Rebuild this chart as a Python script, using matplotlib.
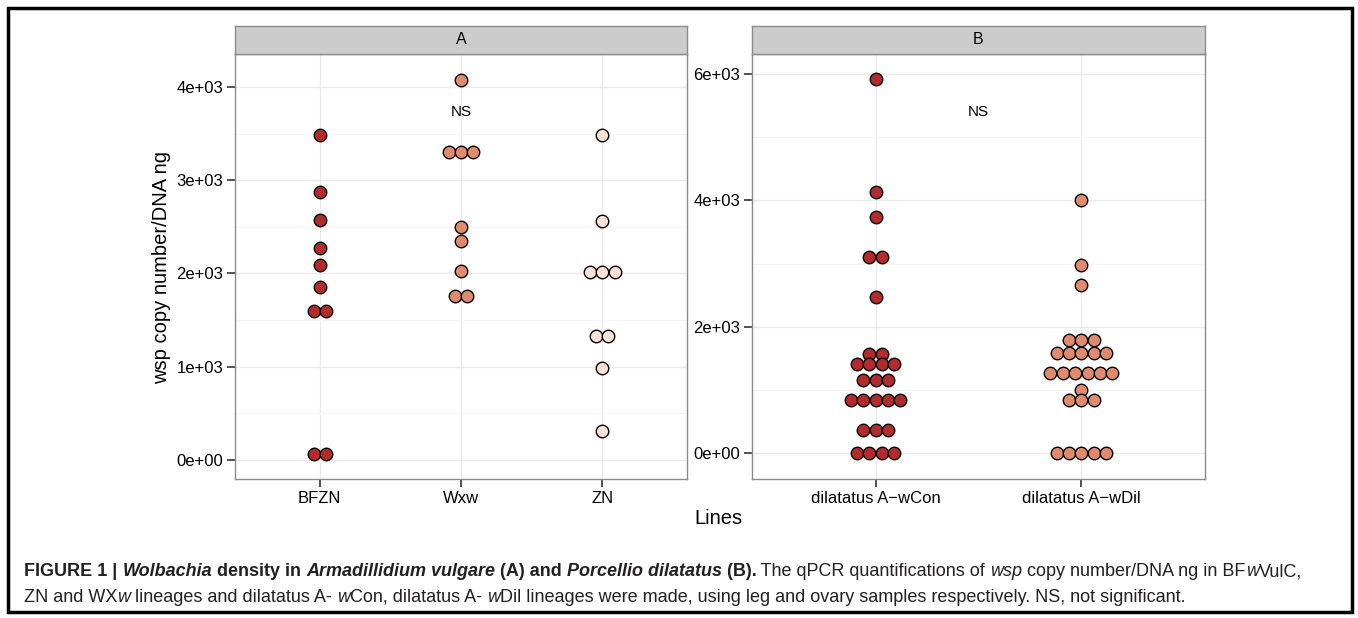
from collections import Counter

import matplotlib
matplotlib.use("Agg")
import matplotlib.pyplot as plt
from matplotlib.patches import Rectangle
from matplotlib.ticker import MultipleLocator

# panel A - Armadillidium vulgare lineages
a_lines = ["BFZN", "Wxw", "ZN"]
a_bfzn = [3485, 2870, 2570, 2270, 2090, 1860, 1600, 1600, 65, 65]
a_wxw = [4080, 3300, 3300, 3300, 2500, 2350, 2030, 1755, 1755]
a_zn = [3485, 2560, 2015, 2015, 2015, 1330, 1330, 985, 315]

# panel B - Porcellio dilatatus lineages
b_lines = ["dilatatus A\u2212wCon", "dilatatus A\u2212wDil"]
b_wcon = [5916, 4137, 3737, 3110, 3110, 2467, 1573, 1573,
          1415, 1415, 1415, 1415, 1157, 1157, 1157,
          847, 847, 847, 847, 847, 363, 363, 363, 5, 5, 5, 5]
b_wdil = [4000, 2973, 2667, 1790, 1790, 1790,
          1594, 1594, 1594, 1594, 1594,
          1273, 1273, 1273, 1273, 1273, 1273, 995,
          837, 837, 837, 5, 5, 5, 5, 5]

fills = ["#B32B2B", "#E08A6E", "#FBE2D5"]

W, H = 1358, 618
FONT = "Liberation Sans"
plt.rcParams["font.family"] = [FONT, "DejaVu Sans"]

fig = plt.figure(figsize=(W / 100, H / 100), dpi=100)


def px_box(x0, y0, x1, y1):
    # pixel box (top-left origin) -> figure fraction rect
    return [x0 / W, 1 - y1 / H, (x1 - x0) / W, (y1 - y0) / H]


def panel(x0, x1, letter, cats, groups, ylim, major, minor, ns_xy):
    ax = fig.add_axes(px_box(x0, 54, x1, 479))
    ax.set_xlim(0.4, len(cats) + 0.6)
    ax.set_ylim(*ylim)
    ax.set_facecolor("white")
    for s in ax.spines.values():
        s.set_color("#8C8C8C")
        s.set_linewidth(1.0)
    ax.yaxis.set_major_locator(MultipleLocator(major))
    ax.yaxis.set_minor_locator(MultipleLocator(minor))
    ax.set_xticks(range(1, len(cats) + 1))
    ax.set_xticklabels(cats)
    ax.yaxis.set_major_formatter(lambda v, p: "%.0e" % v if v != 0 else "0e+00")
    ax.grid(True, which="major", color="#EBEBEB", linewidth=1.0)
    ax.grid(True, which="minor", axis="y", color="#F5F5F5", linewidth=0.8)
    ax.set_axisbelow(True)
    ax.tick_params(which="major", length=5.5, width=1.2, color="#333333",
                   labelsize=12, labelcolor="black", pad=3)
    ax.tick_params(which="minor", length=0)

    # dot diameter in pixels -> data units along x
    dot_px = 12.4
    unit_px = (x1 - x0) / (len(cats) + 0.2)
    for i, vals in enumerate(groups):
        stacks = Counter(vals)
        for v, n in stacks.items():
            for k in range(n):
                dx = (k - (n - 1) / 2) * dot_px / unit_px
                ax.scatter(i + 1 + dx, v, s=81, color=fills[i],
                           edgecolor="black", linewidth=1.0, zorder=3)
    ax.text(ns_xy[0], ns_xy[1], "NS", ha="center", va="center", fontsize=11)

    # strip
    sx = fig.add_axes(px_box(x0, 26, x1, 54))
    sx.set_xticks([])
    sx.set_yticks([])
    sx.set_facecolor("#CCCCCC")
    for s in sx.spines.values():
        s.set_color("#8C8C8C")
        s.set_linewidth(1.0)
    sx.text(0.5, 0.5, letter, ha="center", va="center", fontsize=11.5,
            transform=sx.transAxes)
    return ax


ax_a = panel(235, 687, "A", a_lines, [a_bfzn, a_wxw, a_zn],
             (-204, 4354), 1000, 500, (2, 3730))
ax_b = panel(752, 1205, "B", b_lines, [b_wcon, b_wdil],
             (-407, 6316), 2000, 1000, (1.5, 5400))

fig.text(162 / W, 1 - 267 / H, "wsp copy number/DNA ng", rotation=90,
         ha="center", va="center", fontsize=14.5)
fig.text(718 / W, 1 - 518 / H, "Lines", ha="center", va="center", fontsize=14.5)

# outer frame
fig.add_artist(Rectangle((8 / W, 1 - 612 / H), 1344 / W, 604 / H,
                         transform=fig.transFigure, fill=False,
                         edgecolor="black", linewidth=2.5))

# caption with mixed styles
line1 = [("FIGURE 1 | ", "bold", "normal"),
         ("Wolbachia", "bold", "italic"),
         (" density in ", "bold", "normal"),
         ("Armadillidium vulgare", "bold", "italic"),
         (" (A) and ", "bold", "normal"),
         ("Porcellio dilatatus", "bold", "italic"),
         (" (B).", "bold", "normal"),
         (" The qPCR quantifications of ", "normal", "normal"),
         ("wsp", "normal", "italic"),
         (" copy number/DNA ng in BF", "normal", "normal"),
         ("w", "normal", "italic"),
         ("VulC,", "normal", "normal")]
line2 = [("ZN and WX", "normal", "normal"),
         ("w", "normal", "italic"),
         (" lineages and dilatatus A- ", "normal", "normal"),
         ("w", "normal", "italic"),
         ("Con, dilatatus A- ", "normal", "normal"),
         ("w", "normal", "italic"),
         ("Dil lineages were made, using leg and ovary samples respectively. "
          "NS, not significant.", "normal", "normal")]

renderer = fig.canvas.get_renderer()


def rich_line(x, y, segs, size):
    for txt, wt, st in segs:
        t = fig.text(x / W, 1 - y / H, txt, fontsize=size, fontweight=wt,
                     fontstyle=st, ha="left", va="center", color="#231F20")
        bb = t.get_window_extent(renderer)
        x += bb.width
    return x


rich_line(24, 572, line1, 13)
rich_line(24, 597, line2, 13)

fig.savefig("out.png", dpi=100)
